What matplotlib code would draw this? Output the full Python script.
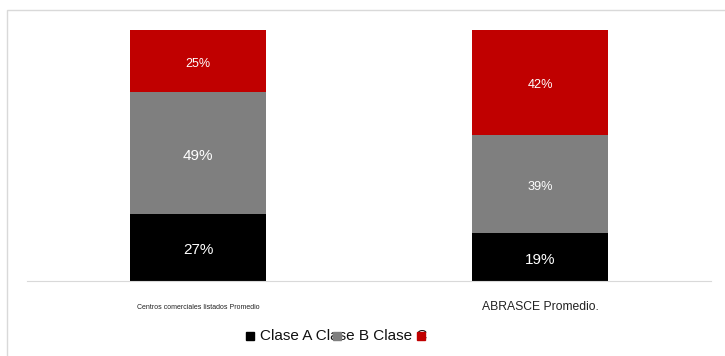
import matplotlib.pyplot as plt
from matplotlib.patches import Rectangle
import numpy as np

plt.rcParams['font.family'] = ['Liberation Sans', 'DejaVu Sans']

categories = ["Centros comerciales listados Promedio", "ABRASCE Promedio."]
series = ["Clase A", "Clase B", "Clase C"]
clase_a = [27, 19]
clase_b = [49, 39]
clase_c = [25, 42]

colors = ["#000000", "#7f7f7f", "#c00000"]
# label sizes per bar segment, bar by bar
label_sizes = [[11, 11, 9], [11, 9.2, 9.2]]
cat_sizes = [5, 8.7]

fig = plt.figure(figsize=(7.25, 3.56), dpi=100)
ax = fig.add_axes([27 / 725, 1 - 281 / 356, 684 / 725, 251 / 356])

# outer frame, open on the right and bottom
fig.patches.append(Rectangle((7 / 725, -0.1), 1.2, 1 - 10 / 356 + 0.1,
                             transform=fig.transFigure, fill=False,
                             edgecolor="#d9d9d9", linewidth=1))

vals = np.array([clase_a, clase_b, clase_c], dtype=float)
shares = vals / vals.sum(axis=0)
x = np.arange(len(categories))
bottom = np.zeros(len(categories))
for i in range(len(series)):
    ax.bar(x, shares[i], 0.4, bottom=bottom, color=colors[i], label=series[i])
    for j in range(len(categories)):
        ax.annotate(f"{vals[i][j]:.0f}%", (x[j], bottom[j] + shares[i][j] / 2),
                    xytext=(0, -2), textcoords="offset points",
                    ha="center", va="center", color="white",
                    fontsize=label_sizes[j][i])
    bottom += shares[i]

ax.set_xlim(-0.5, 1.5)
ax.set_ylim(0, 1)
ax.set_yticks([])
ax.set_xticks([])
for s in ["top", "left", "right"]:
    ax.spines[s].set_visible(False)
ax.spines["bottom"].set_color("#d9d9d9")

for j, name in enumerate(categories):
    ax.annotate(name, (x[j], 0), xytext=(0, -19), textcoords="offset points",
                ha="center", va="center", fontsize=cat_sizes[j], color="#222222")

# legend row, markers sit on top of the text
fig.text(260 / 725, 1 - 336 / 356, " ".join(series), fontsize=11,
         ha="left", va="center", color="#111111")
for px, c in zip([246, 333, 417], colors):
    fig.patches.append(Rectangle((px / 725, 1 - 340 / 356), 8 / 725, 8 / 356,
                                 transform=fig.transFigure, color=c, zorder=5))

fig.savefig("out.png", dpi=100)
